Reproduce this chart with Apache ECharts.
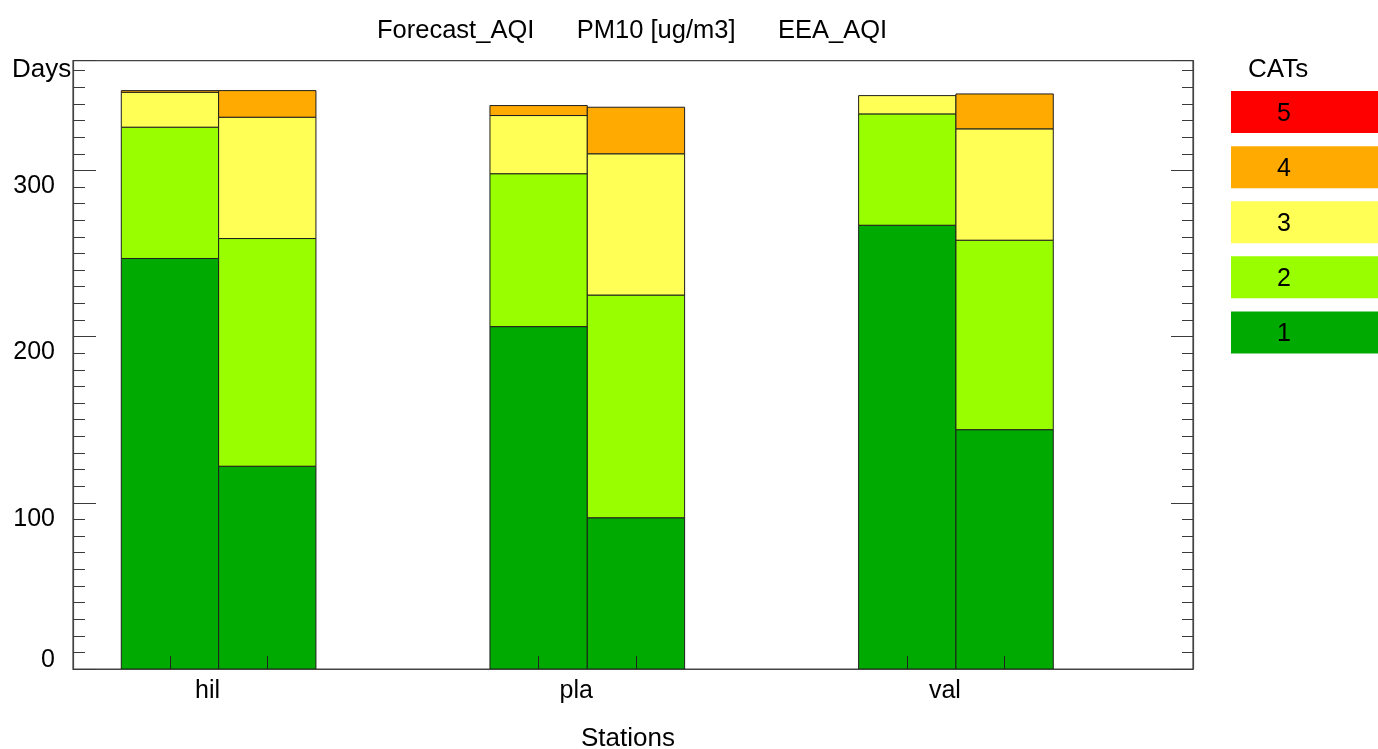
<!DOCTYPE html>
<html>
<head>
<meta charset="utf-8">
<script src="https://cdn.jsdelivr.net/npm/echarts@6/dist/echarts.min.js"></script>
<style>
html,body{margin:0;padding:0;background:#fff;}
#chart{width:1378px;height:749px;}
</style>
</head>
<body>
<div id="chart"></div>
<script>
// ---------------- data ----------------
const stations = ['hil', 'pla', 'val'];
const stationPos = [1, 2, 3];
const cats = ['1', '2', '3', '4', '5'];
const barGroups = ['Forecast_AQI', 'EEA_AQI'];
const titleParts = ['Forecast_AQI', 'PM10 [ug/m3]', 'EEA_AQI'];

// days per category, Forecast_AQI bars (left bar of each station)
const fcCat1 = [247, 206, 267];
const fcCat2 = [79, 92, 67];
const fcCat3 = [21, 35, 11];
const fcCat4 = [1, 6, 0];
const fcCat5 = [0, 0, 0];
// days per category, EEA_AQI bars (right bar of each station)
const eeaCat1 = [122, 91, 144];
const eeaCat2 = [137, 134, 114];
const eeaCat3 = [73, 85, 67];
const eeaCat4 = [16, 28, 21];
const eeaCat5 = [0, 0, 0];

const yMin = 0, yMax = 366;
const yMajor = 100, yMinor = 10;
const xMin = 0.605, xMax = 3.643;

// ---------------- build ----------------
const CAT_COLORS = ['#00AA00', '#99FF00', '#FFFF55', '#FFAA00', '#FF0000'];
const BAR_W = 0.264;
const FONT = 'Liberation Sans, Arial, sans-serif';
const FS = 25;
const FS_T = 25.5;
const FS_N = 26;

const fcSets = [fcCat1, fcCat2, fcCat3, fcCat4, fcCat5];
const eeaSets = [eeaCat1, eeaCat2, eeaCat3, eeaCat4, eeaCat5];
const segData = [];
stationPos.forEach(function (pos, i) {
  [fcSets, eeaSets].forEach(function (sets, side) {
    let acc = 0;
    sets.forEach(function (arr, c) {
      const v = arr[i];
      if (v > 0) segData.push([pos, side, acc, acc + v, c]);
      acc += v;
    });
  });
});
const barCenters = [];
stationPos.forEach(function (p) { barCenters.push(p - BAR_W / 2, p + BAR_W / 2); });

const chart = echarts.init(document.getElementById('chart'), null, { renderer: 'canvas' });
const tickColor = '#3a3a3a';
const yAxisBase = {
  type: 'value', min: yMin, max: yMax, gridIndex: 0,
  splitLine: { show: false },
  axisLine: { show: false }
};
const option = {
  backgroundColor: '#fff',
  animation: false,
  textStyle: { fontFamily: FONT },
  title: [
    { text: titleParts.join('      '), left: 372, top: 13,
      textStyle: { fontSize: FS_T, fontWeight: 'normal', color: '#000', fontFamily: FONT } },
    { text: 'Days', left: 7, top: 52,
      textStyle: { fontSize: FS_N, fontWeight: 'normal', color: '#000', fontFamily: FONT } },
    { text: 'CATs', left: 1243, top: 52,
      textStyle: { fontSize: FS_N, fontWeight: 'normal', color: '#000', fontFamily: FONT } }
  ],
  grid: [
    { left: 73, right: 185, top: 60.7, bottom: 80, outerBoundsMode: 'none', containLabel: false,
      show: true, borderColor: '#444', borderWidth: 1.2, backgroundColor: 'transparent' },
    { left: 1231, right: 0, top: 84.5, height: 275.5, outerBoundsMode: 'none', containLabel: false }
  ],
  xAxis: [
    { type: 'value', min: xMin, max: xMax, gridIndex: 0, z: 10,
      name: 'Stations', nameLocation: 'middle', nameGap: 57,
      nameTextStyle: { fontSize: FS_N, color: '#000', fontFamily: FONT, padding: [0, 10, 0, 0] },
      splitLine: { show: false },
      axisLine: { show: true, lineStyle: { color: '#444', width: 1.2 } },
      axisTick: { show: true, inside: true, length: 13, customValues: barCenters, lineStyle: { color: '#222', width: 1 } },
      axisLabel: { show: true, customValues: stationPos, margin: 10, fontSize: FS, color: '#000', fontFamily: FONT,
        padding: [0, 22, 0, 0],
        formatter: function (v) { const i = stationPos.indexOf(Math.round(v)); return i >= 0 ? stations[i] : ''; } }
    },
    { type: 'value', min: 0, max: 1, gridIndex: 1, show: false }
  ],
  yAxis: [
    Object.assign({}, yAxisBase, { position: 'left', interval: yMajor, z: 10,
      axisLine: { show: true, lineStyle: { color: '#444', width: 1.2 } },
      axisTick: { show: true, inside: true, length: 23, lineStyle: { color: tickColor, width: 1 } },
      axisLabel: { show: true, margin: 18, fontSize: FS, color: '#000', fontFamily: FONT,
        formatter: function (v) {
          if (v % yMajor !== 0) return '';
          return v === 0 ? '{z|0}' : '{n|' + v + '}';
        },
        rich: {
          n: { fontSize: FS, fontFamily: FONT, color: '#000', padding: [32, 0, 0, 0] },
          z: { fontSize: FS, fontFamily: FONT, color: '#000', padding: [0, 0, 17, 0] }
        } } }),
    Object.assign({}, yAxisBase, { position: 'left', interval: yMinor, z: 10,
      axisTick: { show: true, inside: true, length: 12, lineStyle: { color: tickColor, width: 1 } },
      axisLabel: { show: false } }),
    Object.assign({}, yAxisBase, { position: 'right', interval: yMajor, z: 10,
      axisLine: { show: true, lineStyle: { color: '#444', width: 1.2 } },
      axisTick: { show: true, inside: true, length: 22, lineStyle: { color: tickColor, width: 1 } },
      axisLabel: { show: false } }),
    Object.assign({}, yAxisBase, { position: 'right', interval: yMinor, z: 10,
      axisTick: { show: true, inside: true, length: 11, lineStyle: { color: tickColor, width: 1 } },
      axisLabel: { show: false } }),
    { type: 'category', gridIndex: 1, inverse: true, data: cats.slice().reverse(), show: false }
  ],
  series: [
    {
      type: 'custom', xAxisIndex: 0, yAxisIndex: 0,
      data: segData,
      encode: { x: 0, y: [2, 3] },
      renderItem: function (params, api) {
        const g = api.value(0), side = api.value(1), y0 = api.value(2), y1 = api.value(3), c = api.value(4);
        const xc = g + (side - 0.5) * BAR_W;
        const p0 = api.coord([xc - BAR_W / 2, y1]);
        const p1 = api.coord([xc + BAR_W / 2, y0]);
        return {
          type: 'rect',
          shape: { x: p0[0], y: p0[1], width: p1[0] - p0[0], height: p1[1] - p0[1] },
          style: { fill: CAT_COLORS[c], stroke: '#1e1e1e', lineWidth: 1 }
        };
      }
    },
    {
      type: 'bar', xAxisIndex: 1, yAxisIndex: 4, barWidth: 42,
      data: cats.slice().reverse().map(function (c) {
        return { value: 1, name: c, itemStyle: { color: CAT_COLORS[Number(c) - 1] } };
      }),
      label: { show: true, position: ['36%', '50%'], align: 'center', verticalAlign: 'middle', offset: [0, 2],
        formatter: '{b}', fontSize: FS, color: '#000', fontFamily: FONT }
    }
  ]
};
chart.setOption(option);
</script>
</body>
</html>
